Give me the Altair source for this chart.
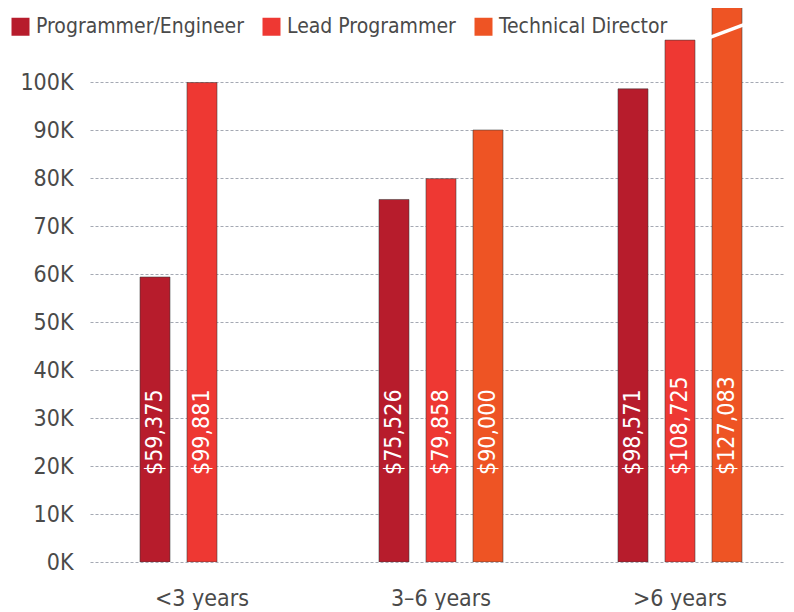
import altair as alt
import pandas as pd

groups = ["<3 years", "3–6 years", ">6 years"]
roles = ["Programmer/Engineer", "Lead Programmer", "Technical Director"]
pe_salary = [59375, 75526, 98571]
lead_salary = [99881, 79858, 108725]
td_salary = [None, 90000, 127083]
role_colors = ["#B71C2C", "#EE3833", "#EE5424"]
y_ticks = [0, 10000, 20000, 30000, 40000, 50000, 60000, 70000, 80000, 90000, 100000]

FONT = "DejaVu Sans Condensed"
Y_MAX = 115417

rows = []
for series, role in zip([pe_salary, lead_salary, td_salary], roles):
    for g, v in zip(groups, series):
        if v is not None:
            rows.append({"group": g, "role": role, "salary": v})
df = pd.DataFrame(rows)

x = alt.X(
    "group:N",
    sort=groups,
    scale=alt.Scale(domain=groups, paddingInner=0.48117, paddingOuter=0.19456, align=0.5376),
    axis=alt.Axis(title=None, labelAngle=0, ticks=False, tickSize=0, domain=False,
                  labelPadding=25, labelFontSize=23, labelColor="#4a4a4a",
                  labelFont=FONT, grid=False),
)
xoff = alt.XOffset("role:N", sort=roles,
                   scale=alt.Scale(domain=roles, paddingInner=0.3617, paddingOuter=0))
y = alt.Y(
    "salary:Q",
    scale=alt.Scale(domain=[0, Y_MAX], nice=False, zero=True),
    axis=alt.Axis(title=None, values=y_ticks, labelExpr="(datum.value/1000) + 'K'",
                  ticks=False, tickSize=0, domain=False, labelPadding=17,
                  labelFontSize=23, labelColor="#4a4a4a", labelFont=FONT,
                  grid=True, gridDash=[3, 2], gridColor="#a4a9b3", gridWidth=1),
)
color = alt.Color(
    "role:N",
    sort=roles,
    scale=alt.Scale(domain=roles, range=role_colors),
    legend=alt.Legend(title=None, orient="none", legendX=-80, legendY=8,
                      direction="horizontal", symbolType="square", symbolSize=324,
                      labelFontSize=21, labelColor="#4a4a4a", labelFont=FONT,
                      labelLimit=400, columnPadding=17, labelOffset=5,
                      symbolStrokeWidth=0, padding=0),
)

base = alt.Chart(df)

bars = base.mark_bar(clip=True, stroke="#3a3a3a", strokeWidth=1, strokeOpacity=0.55).encode(
    x=x, xOffset=xoff, y=y, color=color
)

labels = base.mark_text(angle=270, align="left", baseline="middle", color="white",
                        fontSize=23, font=FONT).encode(
    x=x, xOffset=xoff, y=alt.value(467),
    text=alt.Text("salary:Q", format="$,.0f"),
)

# axis-break marker on bars that run past the top of the axis
brk = base.transform_filter(f"datum.salary > {Y_MAX}").mark_point(
    shape="M-1,0.375L1,-0.375", filled=False, stroke="white", strokeWidth=3.5,
    size=1156, opacity=1
).encode(x=x, xOffset=xoff, y=alt.value(23))

chart = alt.layer(bars, labels, brk).properties(
    width=695, height=554,
    autosize=alt.AutoSizeParams(type="none"),
    padding={"left": 82, "top": 0, "right": 0, "bottom": 48},
    background="white",
).configure_view(stroke=None)

chart.save("out.html", embed_options={"renderer": "svg", "actions": False})
